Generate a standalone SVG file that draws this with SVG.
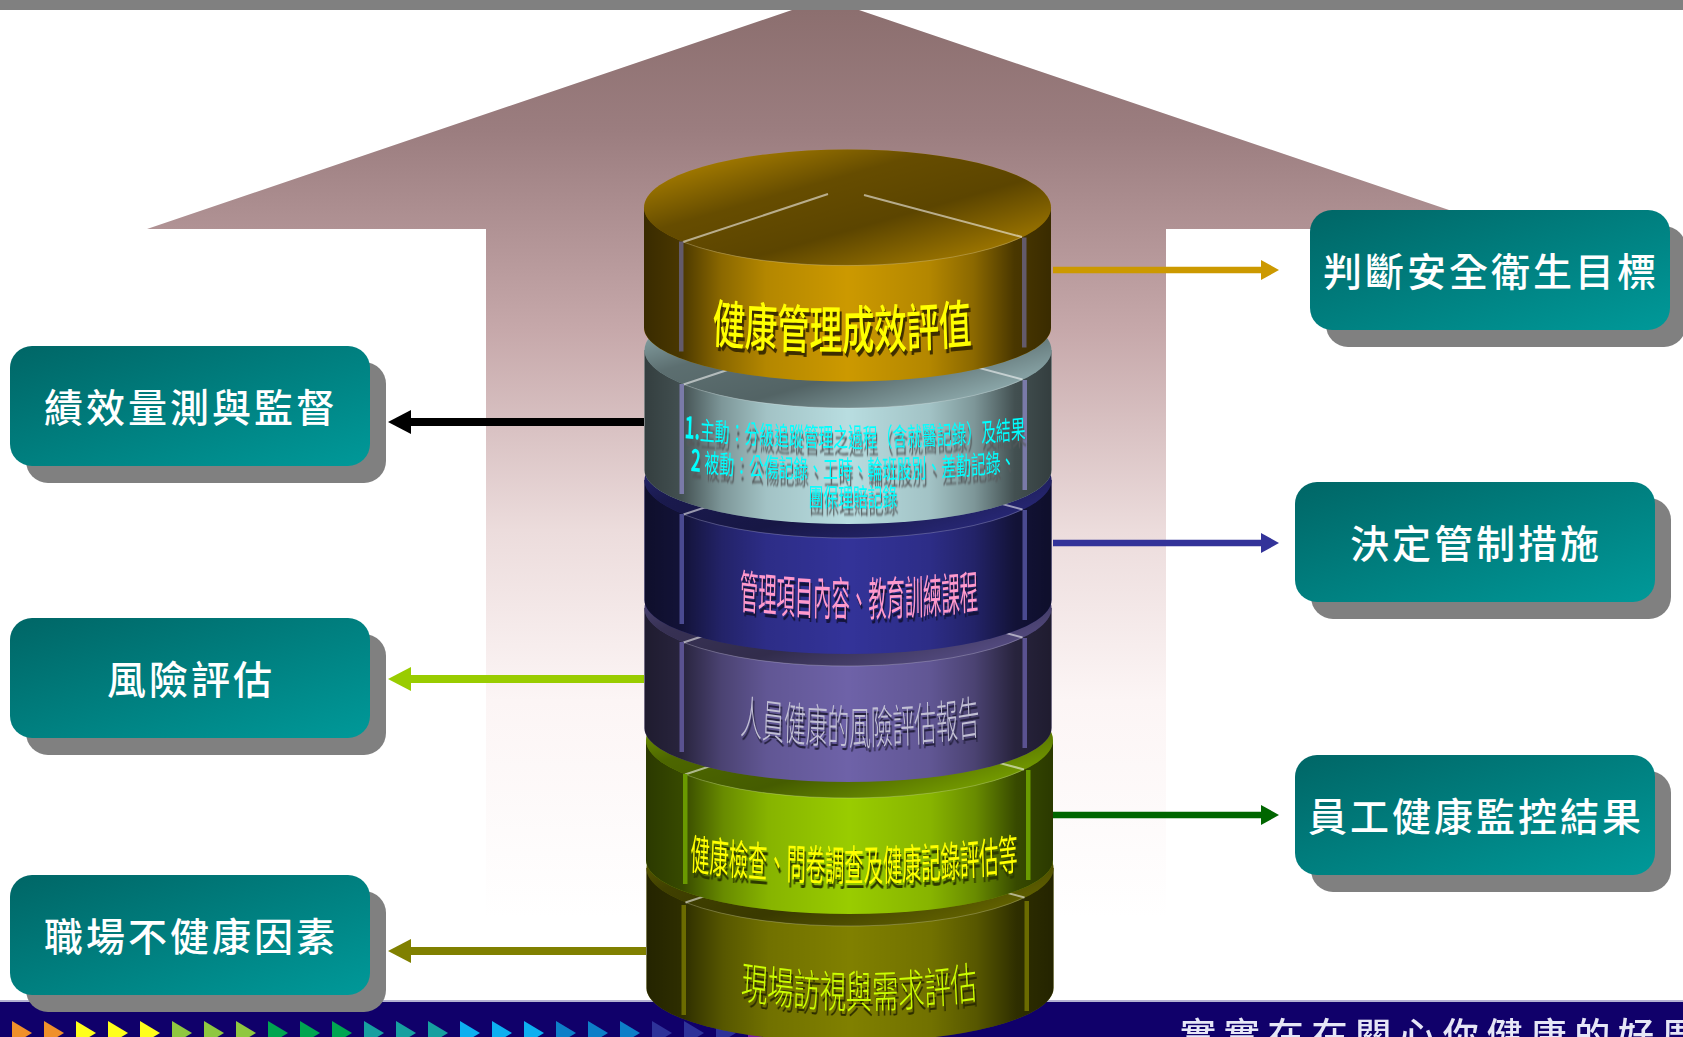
<svg xmlns="http://www.w3.org/2000/svg" width="1683" height="1037" viewBox="0 0 1683 1037">
<style>
text{font-family:"Noto Sans CJK TC","Noto Sans",sans-serif}
.lbl{fill:#fff;font-size:39px;font-weight:500;letter-spacing:3px;text-anchor:middle}
.box{fill:url(#teal)}.bs{fill:#808080}
.c1{fill:#cc9900}.c2{fill:#b8dde0}.c3{fill:#333399}.c4{fill:#6e62a8}.c5{fill:#99cc00}.c6{fill:#808000}
.ridge{fill:none;stroke:#fff;stroke-opacity:.55;stroke-width:2}
.rim{fill:none;stroke:#fff;stroke-opacity:.22;stroke-width:1}
.t{text-anchor:middle}
.t1{fill:#ffff00;font-size:52px;font-weight:500;filter:drop-shadow(3px 4px 0 #3d2d00)}
.t2{fill:#00ffff;font-size:26px;filter:drop-shadow(2px 7px 1px #555a5c)}
.t3{fill:#ff99cc;font-size:46px;filter:drop-shadow(3px 4px 0 #14143c)}
.t4{fill:#c2c0d4;font-size:46px;font-weight:300;filter:drop-shadow(3px 4px 0 #25213f)}
.t5{fill:#ffff00;font-size:42px;filter:drop-shadow(3px 5px 0 #2c3a00)}
.t6{fill:#ccff00;font-size:44px;font-weight:300;filter:drop-shadow(3px 5px 0 #2c2c00)}
.ln{fill:none}
.num{font-weight:700;font-size:30px}
.tri1{fill:#f0902a}.tri2{fill:#ffff1a}.tri3{fill:#8fc840}.tri4{fill:#00a651}.tri5{fill:#17a0a0}.tri6{fill:#0ab0f0}.tri7{fill:#0f7fc8}.tri8{fill:#2e3199}.tri9{fill:#7a1fa0}
</style>
<defs>
<linearGradient id="up" gradientUnits="userSpaceOnUse" x1="0" y1="10" x2="0" y2="918">
<stop offset="0" stop-color="#8c6f6f"/><stop offset=".132" stop-color="#9b7d7f"/><stop offset=".352" stop-color="#c6a8aa"/><stop offset=".573" stop-color="#ecdcdc"/><stop offset=".76" stop-color="#fcf5f5"/><stop offset="1" stop-color="#ffffff"/>
</linearGradient>
<linearGradient id="teal" x1="0" y1="0" x2="1" y2="1"><stop offset="0" stop-color="#006666"/><stop offset="1" stop-color="#009999"/></linearGradient>
<linearGradient id="shade" x1="0" y1="0" x2="1" y2="0">
<stop offset="0" stop-color="#000" stop-opacity=".72"/><stop offset=".09" stop-color="#000" stop-opacity=".64"/><stop offset=".19" stop-color="#000" stop-opacity=".32"/><stop offset=".3" stop-color="#000" stop-opacity=".12"/><stop offset=".5" stop-color="#000" stop-opacity="0"/><stop offset=".7" stop-color="#000" stop-opacity=".12"/><stop offset=".81" stop-color="#000" stop-opacity=".32"/><stop offset=".91" stop-color="#000" stop-opacity=".64"/><stop offset="1" stop-color="#000" stop-opacity=".72"/>
</linearGradient>
<linearGradient id="tilt" x1="0" y1="0" x2="1" y2="1">
<stop offset="0" stop-color="#000" stop-opacity=".05"/><stop offset=".36" stop-color="#000" stop-opacity=".5"/><stop offset=".6" stop-color="#000" stop-opacity=".55"/><stop offset="1" stop-color="#000" stop-opacity=".08"/>
</linearGradient>
<path id="side" d="M-203.5 0V120A203.5 54 0 0 0 203.5 120V0Z"/>
<ellipse id="face" rx="203.5" ry="58"/>
<path id="ridges" d="M-164.5 34.5L-19.5-13.5M16.5-12.5L174.5 29.5"/>
<path id="rimline" d="M-164.5 34.5A203.5 58 0 0 0 174.5 29.5"/>
<path id="stripes" d="M-168.5 34h4.5v110h-4.5zM174.5 30h4.5v110h-4.5z"/>
<path id="tri" d="M0 0L20 12L0 24Z"/>
<path id="p1" d="M-240 340Q0 358 240 340"/>
<path id="p2a" d="M-333 436Q0 458 333 436"/>
<path id="p2b" d="M-333 468Q0 490 333 468"/>
<path id="p2c" d="M-110 506Q0 508 110 506"/>
<path id="p3" d="M-350 605Q0 627 350 605"/>
<path id="p4" d="M-295 729Q0 759 295 729"/>
<path id="p5" d="M-402 866Q0 896 402 866"/>
<path id="p6" d="M-233 994Q0 1022 233 994"/>
<marker id="mBlack" markerUnits="userSpaceOnUse" markerWidth="23" markerHeight="24" refX="0" refY="12" orient="auto"><path d="M0 0L23 12L0 24Z" fill="#000"/></marker>
<marker id="mLime" markerUnits="userSpaceOnUse" markerWidth="23" markerHeight="24" refX="0" refY="12" orient="auto"><path d="M0 0L23 12L0 24Z" fill="#99cc00"/></marker>
<marker id="mOlive" markerUnits="userSpaceOnUse" markerWidth="23" markerHeight="24" refX="0" refY="12" orient="auto"><path d="M0 0L23 12L0 24Z" fill="#808000"/></marker>
<marker id="mGold" markerUnits="userSpaceOnUse" markerWidth="18" markerHeight="20" refX="0" refY="10" orient="auto"><path d="M0 0L18 10L0 20Z" fill="#cc9900"/></marker>
<marker id="mNavy" markerUnits="userSpaceOnUse" markerWidth="18" markerHeight="20" refX="0" refY="10" orient="auto"><path d="M0 0L18 10L0 20Z" fill="#333399"/></marker>
<marker id="mGreen" markerUnits="userSpaceOnUse" markerWidth="18" markerHeight="20" refX="0" refY="10" orient="auto"><path d="M0 0L18 10L0 20Z" fill="#006600"/></marker>
<filter id="soft" x="-5%" y="-20%" width="110%" height="140%"><feGaussianBlur stdDeviation=".7"/></filter>
</defs>

<rect width="1683" height="1037" fill="#fff"/>
<polygon id="big-arrow" points="792,10 859,10 1505,229 1166,229 1166,918 486,918 486,229 147,229" fill="url(#up)"/>
<rect id="top-bar" width="1683" height="10" fill="#808080"/>

<g id="footer">
<rect y="1000" width="1683" height="37" fill="#10006a"/>
<rect y="1000" width="1683" height="2" fill="#b4b2d2"/>
<g id="footer-triangles" filter="url(#soft)">
<use href="#tri" x="-20" y="1021" fill="#d8502a"/>
<use href="#tri" x="12" y="1021" class="tri1"/><use href="#tri" x="44" y="1021" class="tri1"/>
<use href="#tri" x="76" y="1021" class="tri2"/><use href="#tri" x="108" y="1021" class="tri2"/><use href="#tri" x="140" y="1021" class="tri2"/>
<use href="#tri" x="172" y="1021" class="tri3"/><use href="#tri" x="204" y="1021" class="tri3"/><use href="#tri" x="236" y="1021" class="tri3"/>
<use href="#tri" x="268" y="1021" class="tri4"/><use href="#tri" x="300" y="1021" class="tri4"/><use href="#tri" x="332" y="1021" class="tri4"/>
<use href="#tri" x="364" y="1021" class="tri5"/><use href="#tri" x="396" y="1021" class="tri5"/><use href="#tri" x="428" y="1021" class="tri5"/>
<use href="#tri" x="460" y="1021" class="tri6"/><use href="#tri" x="492" y="1021" class="tri6"/><use href="#tri" x="524" y="1021" class="tri6"/>
<use href="#tri" x="556" y="1021" class="tri7"/><use href="#tri" x="588" y="1021" class="tri7"/><use href="#tri" x="620" y="1021" class="tri7"/>
<use href="#tri" x="652" y="1021" class="tri8"/><use href="#tri" x="684" y="1021" class="tri8"/><use href="#tri" x="716" y="1021" class="tri8"/>
<use href="#tri" x="748" y="1021" class="tri9"/>
</g>
<text x="1180" y="1049" font-size="36" font-weight="500" letter-spacing="7.8" fill="#e6e6f6" filter="url(#soft)">實實在在關心你健康的好厝</text>
</g>

<g id="connectors" class="ln">
<line x1="644" y1="422" x2="411" y2="422" stroke="#000" stroke-width="8" marker-end="url(#mBlack)"/>
<line x1="644" y1="679" x2="411" y2="679" stroke="#99cc00" stroke-width="8" marker-end="url(#mLime)"/>
<line x1="646" y1="951" x2="411" y2="951" stroke="#808000" stroke-width="8" marker-end="url(#mOlive)"/>
<line x1="1053" y1="270" x2="1261" y2="270" stroke="#cc9900" stroke-width="6.5" marker-end="url(#mGold)"/>
<line x1="1053" y1="543" x2="1261" y2="543" stroke="#333399" stroke-width="6.5" marker-end="url(#mNavy)"/>
<line x1="1053" y1="815" x2="1261" y2="815" stroke="#006600" stroke-width="6.5" marker-end="url(#mGreen)"/>
</g>

<g id="cyl-6">
<g transform="translate(850,868)">
<use href="#side" class="c6"/><use href="#side" fill="url(#shade)"/>
<use href="#face" class="c6"/><use href="#face" fill="url(#tilt)"/>
<use href="#ridges" class="ridge"/><use href="#rimline" class="rim"/><use href="#stripes" fill="#6b6b00" y="3"/>
</g>
<text class="t t6" transform="translate(859,0) scale(.6,1)"><textPath href="#p6" startOffset="50%">現場訪視與需求評估</textPath></text>
</g>

<g id="cyl-5">
<g transform="translate(849.5,740)">
<use href="#side" class="c5"/><use href="#side" fill="url(#shade)"/>
<use href="#face" class="c5"/><use href="#face" fill="url(#tilt)"/>
<use href="#ridges" class="ridge"/><use href="#rimline" class="rim"/><use href="#stripes" fill="#6a9a00" x="2"/>
</g>
<text class="t t5" transform="translate(854,0) scale(.46,1)"><textPath href="#p5" startOffset="50%">健康檢查、問卷調查及健康記錄評估等</textPath></text>
</g>

<g id="cyl-4">
<g transform="translate(848,608)">
<use href="#side" class="c4"/><use href="#side" fill="url(#shade)"/>
<use href="#face" class="c4"/><use href="#face" fill="url(#tilt)"/>
<use href="#ridges" class="ridge"/><use href="#rimline" class="rim"/><use href="#stripes" fill="#5a5290"/>
</g>
<text class="t t4" transform="translate(860,0) scale(.475,1)"><textPath href="#p4" startOffset="50%">人員健康的風險評估報告</textPath></text>
</g>

<g id="cyl-3">
<g transform="translate(848,480)">
<use href="#side" class="c3"/><use href="#side" fill="url(#shade)"/>
<use href="#face" class="c3"/><use href="#face" fill="url(#tilt)"/>
<use href="#ridges" class="ridge"/><use href="#rimline" class="rim"/><use href="#stripes" fill="#4a4a90"/>
</g>
<text class="t t3" transform="translate(859,0) scale(.4,1)"><textPath href="#p3" startOffset="50%">管理項目內容、教育訓練課程</textPath></text>
</g>

<g id="cyl-2">
<g transform="translate(848,350)">
<use href="#side" class="c2"/><use href="#side" fill="url(#shade)"/>
<use href="#face" class="c2"/><use href="#face" fill="url(#tilt)"/>
<use href="#ridges" class="ridge"/><use href="#rimline" class="rim"/><use href="#stripes" fill="#7a7aa8"/>
</g>
<text class="t t2" transform="translate(855,0) scale(.57,1)"><textPath href="#p2a" startOffset="50%"><tspan class="num">1.</tspan>主動：分級追蹤管理之過程（含就醫記錄）及結果</textPath></text>
<text class="t t2" transform="translate(853,0) scale(.57,1)"><textPath href="#p2b" startOffset="50%"><tspan class="num">2 </tspan>被動：公傷記錄、工時、輪班股別、差勤記錄、</textPath></text>
<text class="t t2" transform="translate(853,0) scale(.57,1)"><textPath href="#p2c" startOffset="50%">團保理賠記錄</textPath></text>
</g>

<g id="cyl-1">
<g transform="translate(847.5,207.5)">
<use href="#side" class="c1"/><use href="#side" fill="url(#shade)"/>
<use href="#face" class="c1"/><use href="#face" fill="url(#tilt)"/>
<use href="#ridges" class="ridge"/><use href="#rimline" class="rim"/><use href="#stripes" fill="#635a6a"/>
</g>
<text class="t t1" transform="translate(842,0) scale(.625,1)"><textPath href="#p1" startOffset="50%">健康管理成效評值</textPath></text>
</g>

<g id="box-left-1"><rect class="bs" x="26" y="362" width="360" height="121" rx="22"/><rect class="box" x="10" y="346" width="360" height="120" rx="22"/><text class="lbl" x="191" y="422">績效量測與監督</text></g>
<g id="box-left-2"><rect class="bs" x="26" y="634" width="360" height="121" rx="22"/><rect class="box" x="10" y="618" width="360" height="120" rx="22"/><text class="lbl" x="191" y="694">風險評估</text></g>
<g id="box-left-3"><rect class="bs" x="26" y="891" width="360" height="121" rx="22"/><rect class="box" x="10" y="875" width="360" height="120" rx="22"/><text class="lbl" x="191" y="951">職場不健康因素</text></g>
<g id="box-right-1"><rect class="bs" x="1326" y="226" width="360" height="121" rx="22"/><rect class="box" x="1310" y="210" width="360" height="120" rx="22"/><text class="lbl" x="1491" y="286">判斷安全衛生目標</text></g>
<g id="box-right-2"><rect class="bs" x="1311" y="498" width="360" height="121" rx="22"/><rect class="box" x="1295" y="482" width="360" height="120" rx="22"/><text class="lbl" x="1476" y="558">決定管制措施</text></g>
<g id="box-right-3"><rect class="bs" x="1311" y="771" width="360" height="121" rx="22"/><rect class="box" x="1295" y="755" width="360" height="120" rx="22"/><text class="lbl" x="1476" y="831">員工健康監控結果</text></g>
</svg>
